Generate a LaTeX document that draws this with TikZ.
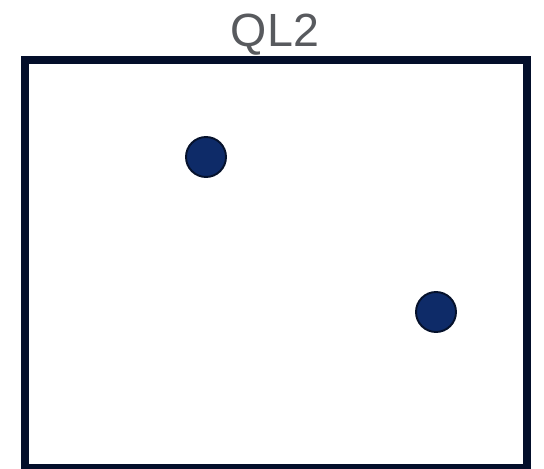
\documentclass[tikz,border=0pt]{standalone}
\usepackage{fontspec}
\setmainfont{Liberation Sans}
\usepackage{xcolor}
\usepackage{tikz}
\usetikzlibrary{positioning}
\definecolor{framenavy}{RGB}{3,14,42}
\definecolor{dotblue}{RGB}{14,43,104}
\definecolor{dotedge}{RGB}{6,18,44}
\definecolor{titlegray}{RGB}{88,90,94}

\begin{document}
\begin{tikzpicture}[font=\rmfamily,
  dot/.style={circle, fill=dotblue, draw=dotedge, line width=1.1pt, minimum size=0.8cm, inner sep=0pt}]

% 1. Page size
\useasboundingbox (0,0) rectangle (10.88,9.38);

% 2. Title
\node[anchor=base, text=titlegray, font=\fontsize{26.5}{30}\selectfont, inner sep=0pt] (title) at (5.50,8.45) {QL2};

% 3. Frame
\draw[line width=0.15cm, framenavy] (0.50,0.02) rectangle (10.54,8.18);

% 4. Dots
\node[dot] (dotA) at (4.12,6.24) {};
\node[dot] (dotB) at (8.72,3.14) {};

\end{tikzpicture}
\end{document}
